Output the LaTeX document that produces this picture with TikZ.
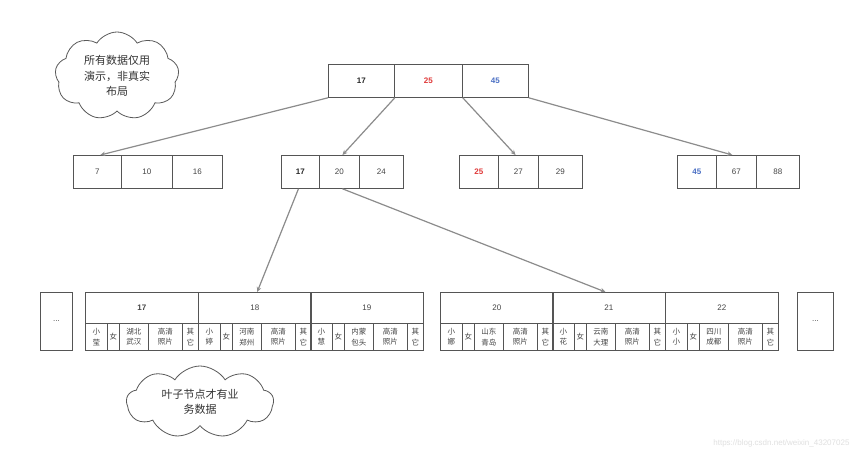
\documentclass[tikz,border=0pt]{standalone}
\usepackage{fontspec}
\setmainfont{Liberation Sans}
\newfontfamily\cjk{Noto Sans CJK SC}
\usetikzlibrary{shapes.symbols,arrows.meta,calc}
\definecolor{boxline}{HTML}{555555}
\definecolor{arrgray}{HTML}{8C8C8C}
\definecolor{numtxt}{HTML}{444444}
\definecolor{redtxt}{HTML}{E03A3A}
\definecolor{bluetxt}{HTML}{4A6FC4}
\tikzset{
  cell/.style={draw=boxline, line width=0.8pt, rectangle, inner sep=0pt, anchor=north west,
    font=\fontsize{8}{9}\selectfont, text=numtxt},
  sub/.style={draw=boxline, line width=0.8pt, rectangle, inner sep=0pt, anchor=north west,
    minimum height=27pt, align=center, font=\cjk\fontsize{7.5}{10.5}\selectfont, text=numtxt},
  bignum/.style={font=\fontsize{8}{9}\selectfont\bfseries, text=black!85},
  arr/.style={draw=arrgray, line width=1.2pt, -{Stealth[length=5pt,width=4.5pt]}},
  cloudy/.style={cloud, cloud puffs=9, cloud puff arc=115, cloud ignores aspect, draw=black!65,
    line width=0.8pt, fill=white, align=center, font=\cjk\fontsize{11}{15.5}\selectfont, text=black!80}
}
% leaf cell: #1 name, #2 x-left, #3 number content, #4 name, #5 city
\newcommand\leafcell[5]{%
  \node[cell, minimum width=113pt, minimum height=31pt] (#1) at (#2,292) {#3};
  \node[sub, minimum width=22pt] (#1a) at (#2,323) {#4};
  \node[sub, minimum width=12pt] (#1b) at ($(#2,323)+(22,0)$) {女};
  \node[sub, minimum width=29pt] (#1c) at ($(#2,323)+(34,0)$) {#5};
  \node[sub, minimum width=34pt] (#1d) at ($(#2,323)+(63,0)$) {高清\\照片};
  \node[sub, minimum width=16pt] (#1e) at ($(#2,323)+(97,0)$) {其\\它};
}
\begin{document}
\begin{tikzpicture}[x=1pt,y=-1pt]
\useasboundingbox[fill=white] (0,0) rectangle (862,457);

% clouds
\node[cloudy, minimum width=124pt, minimum height=88pt] (c1) at (117,76) {所有数据仅用\\演示，非真实\\布局};
\node[cloudy, minimum width=147pt, minimum height=72pt] (c2) at (200,402) {叶子节点才有业\\务数据};

% root
\node[cell, minimum width=66pt, minimum height=33pt, bignum] (r1) at (328,64) {17};
\node[cell, minimum width=68pt, minimum height=33pt, bignum, text=redtxt] (r2) at (394,64) {25};
\node[cell, minimum width=66pt, minimum height=33pt, bignum, text=bluetxt] (r3) at (462,64) {45};

% level 2
\node[cell, minimum width=48pt, minimum height=33pt] (a1) at (73,155) {7};
\node[cell, minimum width=51pt, minimum height=33pt] (a2) at (121,155) {10};
\node[cell, minimum width=50pt, minimum height=33pt] (a3) at (172,155) {16};

\node[cell, minimum width=38pt, minimum height=33pt, bignum] (b1) at (281,155) {17};
\node[cell, minimum width=40pt, minimum height=33pt] (b2) at (319,155) {20};
\node[cell, minimum width=44pt, minimum height=33pt] (b3) at (359,155) {24};

\node[cell, minimum width=39pt, minimum height=33pt, bignum, text=redtxt] (c1n) at (459,155) {25};
\node[cell, minimum width=40pt, minimum height=33pt] (c2n) at (498,155) {27};
\node[cell, minimum width=44pt, minimum height=33pt] (c3n) at (538,155) {29};

\node[cell, minimum width=39pt, minimum height=33pt, bignum, text=bluetxt] (d1) at (677,155) {45};
\node[cell, minimum width=40pt, minimum height=33pt] (d2) at (716,155) {67};
\node[cell, minimum width=43pt, minimum height=33pt] (d3) at (756,155) {88};

% leaves
\node[cell, minimum width=32pt, minimum height=58pt] (dl) at (40,292) {...};
\leafcell{l17}{85}{\textbf{17}}{小\\莹}{湖北\\武汉}
\leafcell{l18}{198}{18}{小\\婷}{河南\\郑州}
\leafcell{l19}{310}{19}{小\\慧}{内蒙\\包头}
\leafcell{l20}{440}{20}{小\\娜}{山东\\青岛}
\leafcell{l21}{552}{21}{小\\花}{云南\\大理}
\leafcell{l22}{665}{22}{小\\小}{四川\\成都}
\node[cell, minimum width=36pt, minimum height=58pt] (dr) at (797,292) {...};

% arrows
\draw[arr] (r1.south west) -- ($(a1.north west)!0.56!(a1.north east)$);
\draw[arr] (r1.south east) -- ($(b2.north west)!0.575!(b2.north east)$);
\draw[arr] (r2.south east) -- ($(c2n.north west)!0.43!(c2n.north east)$);
\draw[arr] (r3.south east) -- ($(d2.north west)!0.4!(d2.north east)$);
\draw[arr] ($(b1.south west)!0.45!(b1.south east)$) -- ($(l18.north west)!0.52!(l18.north east)$);
\draw[arr] ($(b2.south west)!0.575!(b2.south east)$) -- ($(l21.north west)!0.47!(l21.north east)$);

% watermark
\node[font=\fontsize{8}{9}\selectfont, text=black!12, anchor=east] (wm) at (853,443) {https://blog.csdn.net/weixin\_43207025};
\end{tikzpicture}
\end{document}
